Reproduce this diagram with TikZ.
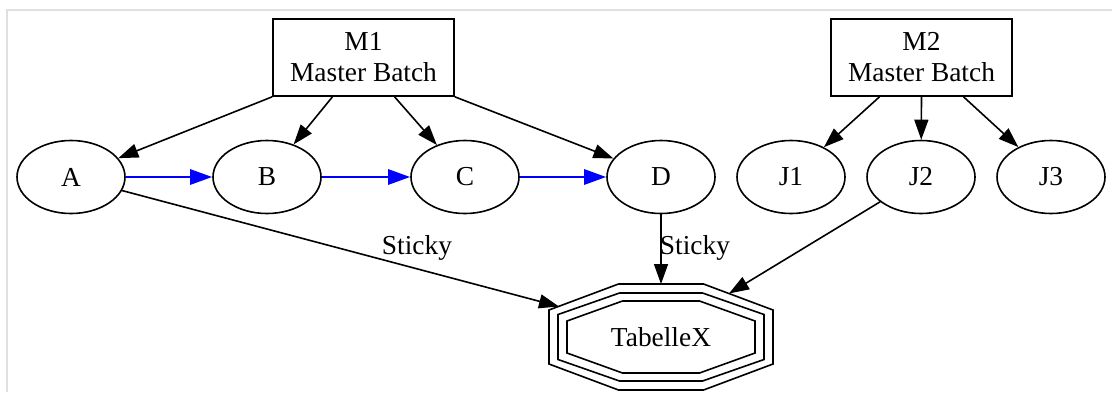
\documentclass[tikz,border=0pt]{standalone}
\usepackage{fontspec}
\setmainfont{Liberation Serif}
\usetikzlibrary{calc,arrows.meta,shapes.geometric}

\begin{document}
\begin{tikzpicture}[x=0.5pt,y=-0.5pt,
  every node/.style={font=\fontsize{13.7}{15.5}\selectfont},
  batch/.style={draw,line width=0.8pt,minimum width=90.5pt,minimum height=38.5pt,inner sep=0pt,align=center},
  job/.style={draw,ellipse,line width=0.8pt,minimum width=54pt,minimum height=36.5pt,inner sep=0pt},
  edge/.style={line width=0.8pt,-{Triangle[length=10pt,width=7pt]}},
  chain/.style={blue,line width=1.4pt,-{Triangle[length=11pt,width=7.5pt]}}]
  \useasboundingbox (0,0) rectangle (1112,392);
  \draw[black!12,line width=0.6pt] (7,392)--(7,10)--(1112,10);
  % master batches
  \node[batch] (m1) at (363.5,57.5) {M1\\Master Batch};
  \node[batch] (m2) at (921.5,57.5) {M2\\Master Batch};
  % jobs
  \node[job] (a) at (71,177) {A};
  \node[job] (b) at (267,177) {B};
  \node[job] (c) at (465,177) {C};
  \node[job] (d) at (661,177) {D};
  \node[job] (j1) at (791,177) {J1};
  \node[job] (j2) at (921,177) {J2};
  \node[job] (j3) at (1051,177) {J3};
  % target table
  \node (tab) at (661,337) {TabelleX};
  \begin{scope}[shift={(tab.center)},line width=0.8pt]
    \draw (-42.5,-53)--(42.5,-53)--(112,-27)--(112,27)--(42.5,53)--(-42.5,53)--(-112,27)--(-112,-27)--cycle;
    \draw (-41.5,-44)--(41.5,-44)--(103,-22.5)--(103,22.5)--(41.5,44)--(-41.5,44)--(-103,22.5)--(-103,-22.5)--cycle;
    \draw (-38.5,-36)--(38.5,-36)--(94,-16)--(94,16)--(38.5,36)--(-38.5,36)--(-94,16)--(-94,-16)--cycle;
    \coordinate (tA) at (-102,-30.5);
    \coordinate (tD) at (0,-53);
    \coordinate (tJ) at (68,-43.5);
  \end{scope}
  % batch edges
  \draw[edge] (m1.south west) -- (a);
  \draw[edge] ($(m1.south west)!.33!(m1.south east)$) -- (b);
  \draw[edge] ($(m1.south west)!.67!(m1.south east)$) -- (c);
  \draw[edge] (m1.south east) -- (d);
  \draw[edge] ($(m2.south west)!.27!(m2.south east)$) -- (j1);
  \draw[edge] (m2.south) -- (j2);
  \draw[edge] ($(m2.south west)!.73!(m2.south east)$) -- (j3);
  % chain
  \draw[chain] (a) -- (b);
  \draw[chain] (b) -- (c);
  \draw[chain] (c) -- (d);
  % into the table
  \draw[edge] (a) -- (tA);
  \draw[edge] (d) -- (tD);
  \draw[edge] (j2) -- (tJ);
  \node (stA) at (417,248) {Sticky};
  \node (stD) at (695,248) {Sticky};
\end{tikzpicture}
\end{document}
